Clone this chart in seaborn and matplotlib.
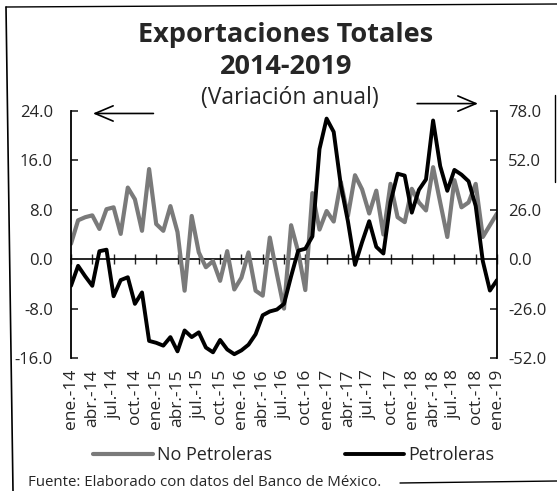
import matplotlib
matplotlib.use("Agg")
import matplotlib.pyplot as plt
from matplotlib.lines import Line2D
import seaborn as sns
import pandas as pd

# ---- data ----
tick_labels = ["ene.-14", "abr.-14", "jul.-14", "oct.-14", "ene.-15", "abr.-15", "jul.-15",
               "oct.-15", "ene.-16", "abr.-16", "jul.-16", "oct.-16", "ene.-17", "abr.-17",
               "jul.-17", "oct.-17", "ene.-18", "abr.-18", "jul.-18", "oct.-18", "ene.-19"]

no_petroleras = [2.5, 6.3, 6.8, 7.1, 4.9, 8.1, 8.4, 4.1, 11.6, 9.7, 4.6, 14.6, 5.7, 4.6, 8.6,
                 4.4, -5.1, 7.0, 1.1, -1.3, -0.3, -3.5, 1.3, -4.9, -3.0, 1.1, -5.1, -5.9, 3.5,
                 -2.4, -8.0, 5.5, 1.2, -5.0, 10.7, 4.8, 7.8, 6.1, 12.5, 7.0, 13.6, 11.3, 7.4,
                 11.1, 4.0, 12.2, 6.8, 6.0, 11.4, 9.2, 7.9, 14.9, 9.2, 3.6, 12.8, 8.4, 9.2,
                 12.2, 3.6, 5.5, 7.4]

petroleras = [-14.0, -3.5, -9.0, -14.0, 4.2, 5.0, -19.5, -11.0, -9.5, -23.5, -17.5, -43.0,
              -44.0, -45.5, -41.0, -48.5, -37.5, -41.0, -38.5, -46.5, -49.0, -42.5, -47.5,
              -50.0, -48.0, -45.0, -39.5, -29.5, -27.5, -26.5, -23.5, -9.0, 4.5, 5.5, 12.0,
              58.0, 74.0, 67.0, 39.0, 20.0, -3.0, 9.0, 20.0, 6.5, 3.0, 30.0, 45.0, 44.0,
              24.5, 36.5, 42.0, 73.0, 49.0, 36.0, 47.0, 44.5, 41.0, 28.0, -1.0, -16.5, -11.0]

left_ticks = [-16, -8, 0, 8, 16, 24]
right_ticks = [-52, -26, 0, 26, 52, 78]

# ---- figure ----
sns.set_style("white")
plt.rcParams["font.family"] = ["Open Sans", "DejaVu Sans"]

fig = plt.figure(figsize=(5.57, 4.91), dpi=100)
ax = fig.add_axes([71 / 557, 1 - 358 / 491, 426 / 557, 247 / 491])
ax2 = ax.twinx()

df = pd.DataFrame({"mes": range(len(no_petroleras)),
                   "No Petroleras": no_petroleras,
                   "Petroleras": petroleras})

sns.lineplot(data=df, x="mes", y="No Petroleras", ax=ax, color="#7a7a7a",
             linewidth=3.0, label="No Petroleras", legend=False)
sns.lineplot(data=df, x="mes", y="Petroleras", ax=ax2, color="black",
             linewidth=2.8, label="Petroleras", legend=False)

n = len(no_petroleras)
ax.set_xlim(0, n - 1)
ax.set_ylim(left_ticks[0], left_ticks[-1])
ax2.set_ylim(right_ticks[0], right_ticks[-1])

ax.set_xlabel("")
ax.set_ylabel("")
ax2.set_ylabel("")

# spines
for a in (ax, ax2):
    a.spines["top"].set_visible(False)
    a.spines["bottom"].set_visible(False)
ax.spines["right"].set_visible(False)
ax2.spines["left"].set_visible(False)
for sp in (ax.spines["left"], ax2.spines["right"]):
    sp.set_linewidth(1.3)
    sp.set_color("black")

ax.set_yticks(left_ticks)
ax.set_yticklabels([f"{v:.1f}" for v in left_ticks])
ax2.set_yticks(right_ticks)
ax2.set_yticklabels([f"{v:.1f}" for v in right_ticks])
ax.tick_params(axis="y", direction="in", length=5, width=1.2, pad=13, labelsize=12)
ax2.tick_params(axis="y", direction="in", length=5, width=1.2, pad=8, labelsize=12)

xt = list(range(0, n, 3))
ax.set_xticks(xt)
ax.set_xticklabels(tick_labels, rotation=90)
ax.tick_params(axis="x", length=0, pad=8, labelsize=12.5)

# zero axis with tick marks
zero_frac = (0 - left_ticks[0]) / (left_ticks[-1] - left_ticks[0])
sec = ax.secondary_xaxis(zero_frac)
sec.set_xticks(xt)
sec.set_xticklabels([])
sec.tick_params(axis="x", direction="inout", length=7, width=1)
sec.spines["bottom"].set_linewidth(1.2)
sec.spines["bottom"].set_color("black")
sec.spines["top"].set_visible(False)

# arrows
arrow_style = "->,head_length=1.3,head_width=0.55"
ax.annotate("", xy=(0.045, 0.99), xytext=(0.20, 0.99), xycoords="axes fraction",
            arrowprops=dict(arrowstyle=arrow_style, color="black", lw=1.2),
            annotation_clip=False)
ax.annotate("", xy=(0.962, 1.03), xytext=(0.806, 1.03), xycoords="axes fraction",
            arrowprops=dict(arrowstyle=arrow_style, color="black", lw=1.2),
            annotation_clip=False)

# titles
fig.text(286 / 557, 1 - 35 / 491, "Exportaciones Totales", ha="center", va="center",
         fontsize=19.5, fontweight="bold")
fig.text(286 / 557, 1 - 67 / 491, "2014-2019", ha="center", va="center",
         fontsize=19.5, fontweight="bold")
fig.text(290 / 557, 1 - 98 / 491, "(Variación anual)", ha="center", va="center",
         fontsize=16.5)

# legend
h1, l1 = ax.get_legend_handles_labels()
h2, l2 = ax2.get_legend_handles_labels()
fig.legend(h1 + h2, l1 + l2, loc="center", bbox_to_anchor=(294 / 557, 1 - 455 / 491),
           ncol=2, frameon=False, fontsize=13, handlelength=3.3, handletextpad=0.25,
           columnspacing=4.0)

fig.text(28 / 557, 1 - 482 / 491, "Fuente: Elaborado con datos del Banco de México.",
         ha="left", va="center", fontsize=10.8)

# frame remnants of the scanned box
fig.add_artist(Line2D([6 / 557, 13 / 557], [1 - 7 / 491, 0], color="black", lw=1.2))
fig.add_artist(Line2D([6 / 557, 1], [1 - 7 / 491, 1 - 4 / 491], color="black", lw=1))
fig.add_artist(Line2D([555 / 557, 555 / 557], [1 - 95 / 491, 1 - 182 / 491], color="black", lw=1))
fig.add_artist(Line2D([400 / 557, 1], [1 - 483 / 491, 1 - 481 / 491], color="black", lw=1))

fig.savefig("out.png", dpi=100)
